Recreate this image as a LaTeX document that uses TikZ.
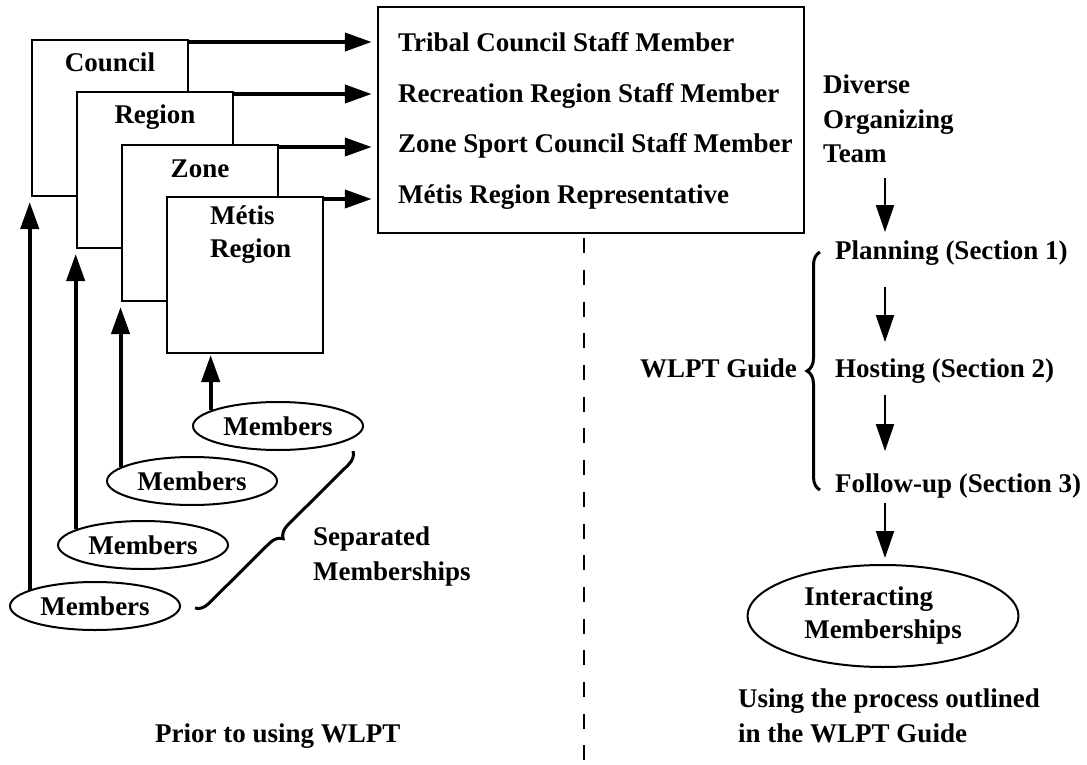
\documentclass[tikz,border=0pt]{standalone}
\usepackage{fontspec}
\setmainfont{Liberation Serif}
\usetikzlibrary{arrows.meta,shapes.geometric,decorations.pathreplacing,positioning,calc}

\begin{document}
\begin{tikzpicture}[x=1pt,y=-1pt,
     tag/.style={font=\bfseries\fontsize{27}{33}\selectfont, inner sep=0pt},
     layer/.style={draw, fill=white, line width=2pt, minimum width=156pt, minimum height=156pt, inner sep=0pt},
     members/.style={ellipse, draw, line width=2pt, minimum width=170pt, minimum height=48pt, tag},
     feed/.style={line width=4pt, -{Triangle[length=27pt,width=18pt]}},
     flow/.style={line width=2pt, -{Triangle[length=27pt,width=18pt]}},
     curly/.style={decorate, decoration={brace, amplitude=13pt}, line width=3pt},
     divider/.style={line width=2.3pt, dash pattern=on 15pt off 16.7pt}]
     \useasboundingbox (0,0) rectangle (1087,765);

     \node[layer] (council) at (110,118) {};
     \node[layer] (region) at (155,170) {};
     \node[layer] (zone) at (200,223) {};
     \node[layer] (metis) at (245,275) {};
     \node[tag, anchor=base] (councilname) at ([yshift=-33pt]council.north) {Council};
     \node[tag, anchor=base] (regionname) at ([yshift=-33pt]region.north) {Region};
     \node[tag, anchor=base] (zonename) at ([yshift=-33pt]zone.north) {Zone};
     \node[tag, anchor=base west] (metisname) at ([xshift=44pt,yshift=-28pt]metis.north west) {Métis};
     \node[tag, anchor=base west] (metisregion) at ([yshift=-33pt]metisname.base west) {Region};

     \node[draw, line width=2.5pt, minimum width=426pt, minimum height=226pt, inner sep=0pt] (frame) at (591,120) {};
     \node[tag, anchor=base west] (tribal) at (398,52) {Tribal Council Staff Member};
     \node[tag, anchor=base west] (recreation) at ([yshift=-50.5pt]tribal.base west) {Recreation Region Staff Member};
     \node[tag, anchor=base west] (zonesport) at ([yshift=-50.5pt]recreation.base west) {Zone Sport Council Staff Member};
     \node[tag, anchor=base west] (metisrep) at ([yshift=-50.5pt]zonesport.base west) {Métis Region Representative};
     \foreach \b in {council,region,zone,metis}
       \draw[feed, shorten >=5pt] ($(\b.north east)+(0,3)$) -- ($(\b.north east -| frame.west)+(0,3)$);

     \node[members] (m1) at (278,426) {Members};
     \node[members] (m2) at (192,481) {Members};
     \node[members] (m3) at (143,545) {Members};
     \node[members] (m4) at (95,606) {Members};
     \foreach \m/\a/\b/\s in {m1/167/metis/1, m2/169/zone/5, m3/167/region/5, m4/166/council/5}
       \draw[feed, shorten >=\s pt] (\m.\a) -- (\m.\a |- \b.south);

     \coordinate (septop) at (353,451);
     \coordinate (sepbottom) at (195,608);
     \draw[curly] (septop) -- (sepbottom);
     \node[tag, anchor=base west] (separated) at (313,545) {Separated};
     \node[tag, anchor=base west] (separatedtwo) at ([yshift=-35pt]separated.base west) {Memberships};
     \node[tag, anchor=base west] (prior) at (155,742) {Prior to using WLPT};

     \draw[divider] ([xshift=-7pt,yshift=-4pt]frame.south) -- ++(0,527);

     \node[tag, anchor=base west] (diverse) at (823,94) {Diverse};
     \node[tag, anchor=base west] (organizing) at ([yshift=-34.5pt]diverse.base west) {Organizing};
     \node[tag, anchor=base west] (team) at ([yshift=-34.5pt]organizing.base west) {Team};
     \node[tag, anchor=base west] (planning) at (835,259) {Planning (Section 1)};
     \node[tag, anchor=base west] (hosting) at (835,377) {Hosting (Section 2)};
     \node[tag, anchor=base west] (followup) at (835,492) {Follow-up (Section 3)};
     \node[ellipse, draw, line width=2pt, minimum width=271pt, minimum height=102pt, tag, align=left] (interact) at (883,616) {Interacting\\Memberships};
     \coordinate (spine) at (885,0);
     \foreach \a/\b/\s/\t in {team/planning/15/8, planning/hosting/22/16, hosting/followup/12/22, followup/interact/5/6}
       \draw[flow, shorten <=\s pt, shorten >=\t pt] (\a.south -| spine) -- (\b.north -| spine);

     \draw[curly] ([xshift=-15pt,yshift=2pt]followup.base west) -- ([xshift=-15pt,yshift=7pt]planning.base west);
     \node[tag, anchor=base east] (guide) at ([xshift=-38pt]hosting.base west) {WLPT Guide};
     \node[tag, anchor=base west] (using) at (738,707) {Using the process outlined};
     \node[tag, anchor=base west] (usingtwo) at ([yshift=-35pt]using.base west) {in the WLPT Guide};
\end{tikzpicture}
\end{document}
